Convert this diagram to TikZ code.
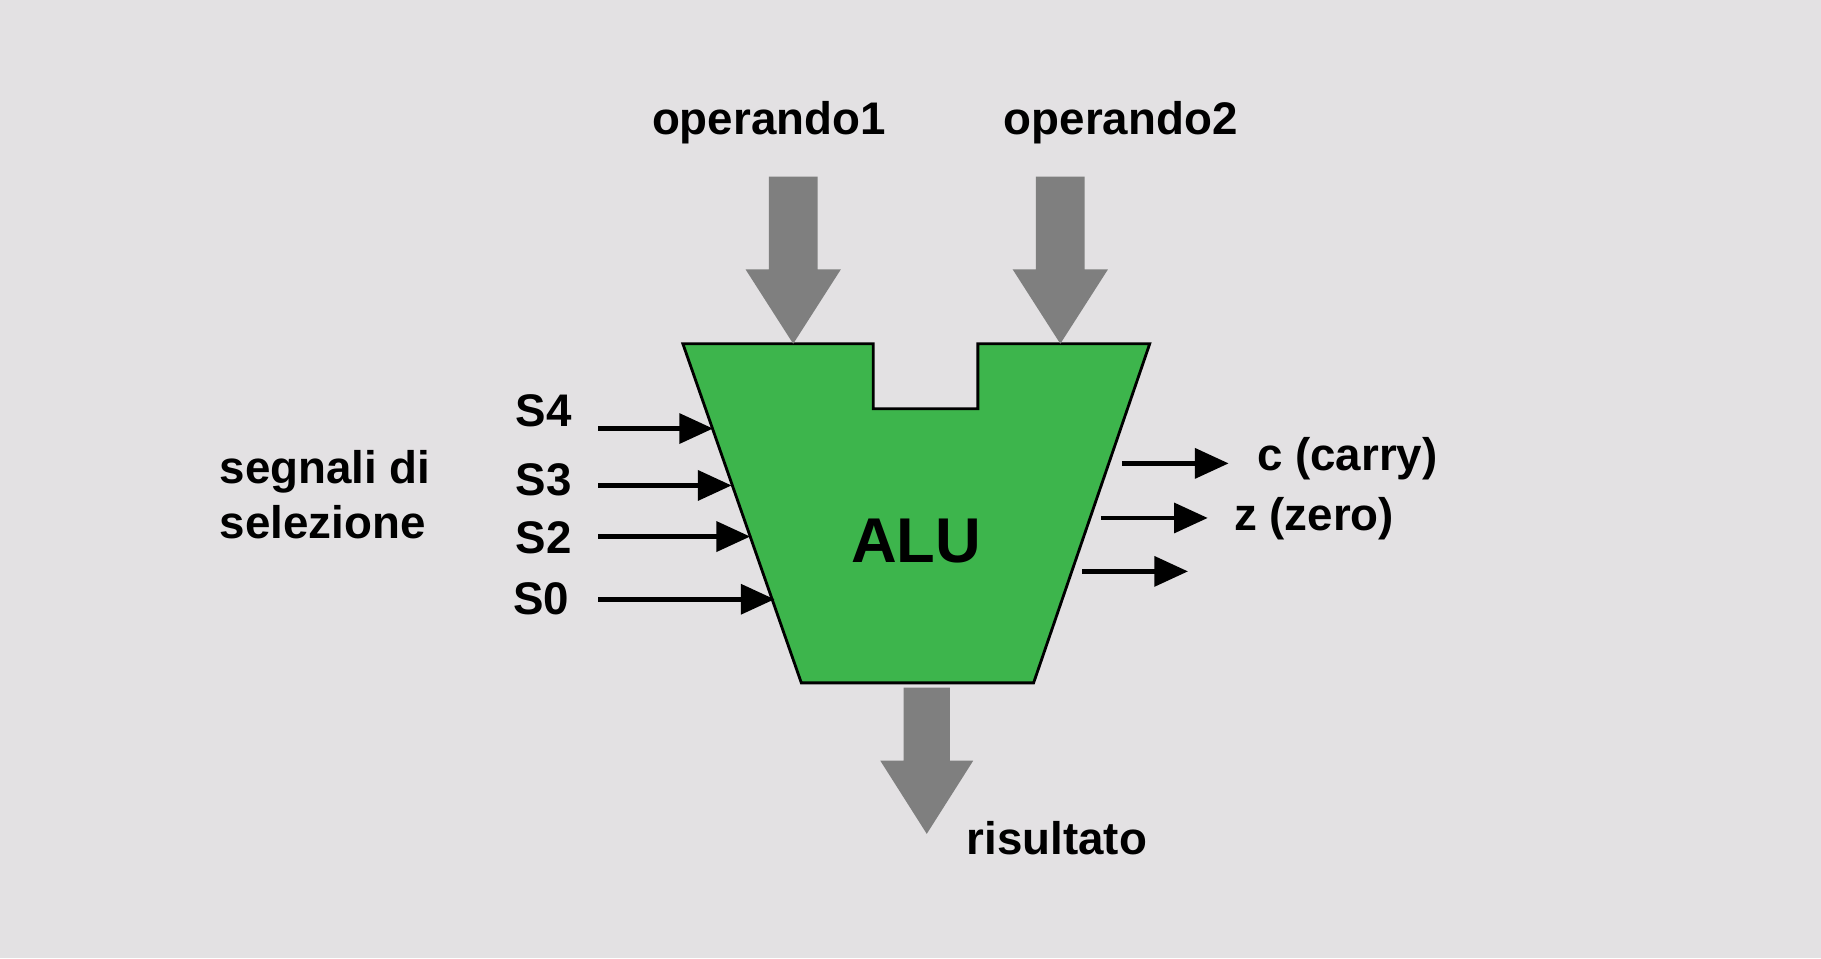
\documentclass[tikz,border=0pt]{standalone}
\usepackage{fontspec}
\setmainfont{Liberation Sans}
\usetikzlibrary{arrows.meta}
\definecolor{bg}{HTML}{E3E1E3}
\definecolor{alugreen}{HTML}{3DB54C}
\definecolor{fat}{HTML}{7F7F7F}
\begin{document}
\begin{tikzpicture}[x=0.011614cm,y=-0.011614cm,
  lbl/.style={font=\bfseries\fontsize{13}{15.5}\selectfont,inner sep=0pt},
  sig/.style={-{Triangle[length=16pt*0.6,width=14pt*0.6]},line width=1.4pt},
  fatarrow/.style={fill=fat,draw=none}]
\fill[bg] (0,0) rectangle (1568,825);
\useasboundingbox (0,0) rectangle (1568,825);
% ALU body
\draw[fill=alugreen,line width=0.8pt] (588,296) -- (752,296) -- (752,352) -- (842,352) -- (842,296) -- (990,296) -- (890,588) -- (690,588) -- cycle;
\node[font=\bfseries\fontsize{18}{20}\selectfont] (alu) at (789,466) {ALU};
% fat arrows
\fill[fatarrow] (662,152) -- (704,152) -- (704,232) -- (724,232) -- (683,296) -- (642,232) -- (662,232) -- cycle;
\fill[fatarrow] (892,152) -- (934,152) -- (934,232) -- (954,232) -- (913,296) -- (872,232) -- (892,232) -- cycle;
\fill[fatarrow] (778,592) -- (818,592) -- (818,655) -- (838,655) -- (798,718) -- (758,655) -- (778,655) -- cycle;
\node[lbl] (op1) at (662,106) {operando1};
\node[lbl] (op2) at (965,106) {operando2};
\node[lbl] (ris) at (910,722) {risultato};
% selection signals
\node[lbl] (s4) at (468,354) {S4};
\node[lbl] (s3) at (468,413) {S3};
\node[lbl] (s2) at (468,463) {S2};
\node[lbl] (s0) at (466,516) {S0};
\node[lbl,align=left] (seg) at (280,426) {segnali di\\selezione};
\coordinate (a4) at (515,369); \coordinate (b4) at (614,369);
\coordinate (a3) at (515,418); \coordinate (b3) at (630,418);
\coordinate (a2) at (515,462); \coordinate (b2) at (646,462);
\coordinate (a0) at (515,516); \coordinate (b0) at (667,516);
\draw[sig] (a4) -- (b4);
\draw[sig] (a3) -- (b3);
\draw[sig] (a2) -- (b2);
\draw[sig] (a0) -- (b0);
% outputs
\coordinate (c1) at (966,399); \coordinate (c2) at (1058,399);
\coordinate (z1) at (948,446); \coordinate (z2) at (1040,446);
\coordinate (o1) at (932,492); \coordinate (o2) at (1023,492);
\draw[sig] (c1) -- (c2);
\draw[sig] (z1) -- (z2);
\draw[sig] (o1) -- (o2);
\node[lbl,anchor=west] (carry) at (1082,395) {c (carry)};
\node[lbl,anchor=west] (zero) at (1062,447) {z (zero)};
\end{tikzpicture}
\end{document}
